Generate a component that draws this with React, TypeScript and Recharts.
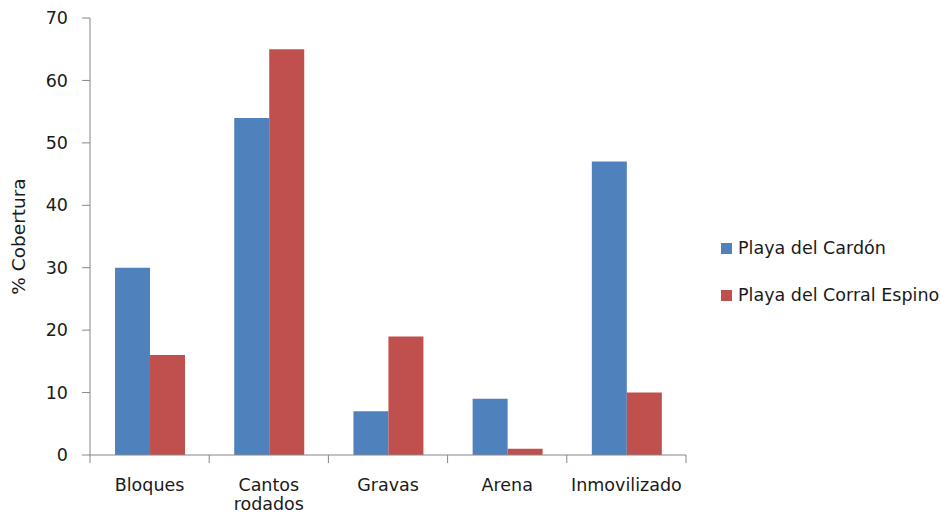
import { BarChart, Bar, XAxis, YAxis, Legend } from 'recharts';

// Cobertura (%) por tipo de sustrato en dos playas.
const categories = ['Bloques', 'Cantos rodados', 'Gravas', 'Arena', 'Inmovilizado'];
const cardon = [30, 54, 7, 9, 47];
const corralEspino = [16, 65, 19, 1, 10];
const seriesNames = ['Playa del Cardón', 'Playa del Corral Espino'];
const yTicks = [0, 10, 20, 30, 40, 50, 60, 70];

const BLUE = '#4F81BD';
const RED = '#C0504D';
const AXIS = '#868686';
const TEXT = '#1a1a1a';
const FONT = '"DejaVu Sans", Verdana, sans-serif';
const FS = 17.5;

const data = categories.map((name, i) => ({
  name,
  cardon: cardon[i],
  corral: corralEspino[i],
}));

// Excel puts the category tick marks on the band edges, not the centres.
function CategoryTick({ x, y, payload, index, visibleTicksCount }: any) {
  const lines = String(payload.value).split(' ');
  const half = payload.offset ?? 0;
  const last = index === visibleTicksCount - 1;
  return (
    <g>
      <line x1={x - half} x2={x - half} y1={y} y2={y + 8} stroke={AXIS} />
      {last && <line x1={x + half} x2={x + half} y1={y} y2={y + 8} stroke={AXIS} />}
      <text x={x} y={y} textAnchor="middle" fill={TEXT} fontSize={FS} fontFamily={FONT}>
        {lines.map((l, i) => (
          <tspan key={i} x={x} dy={i === 0 ? 36 : 19}>
            {l}
          </tspan>
        ))}
      </text>
    </g>
  );
}

function LegendBox({ payload }: any) {
  return (
    <div style={{ fontFamily: FONT, fontSize: FS, color: TEXT }}>
      {(payload ?? []).map((p: any, i: number) => (
        <div key={i} style={{ display: 'flex', alignItems: 'center', height: 24, marginBottom: 23 }}>
          <span style={{ width: 11, height: 11, background: p.color, marginRight: 6, display: 'inline-block' }} />
          <span style={{ whiteSpace: 'nowrap' }}>{p.value}</span>
        </div>
      ))}
    </div>
  );
}

export default function App() {
  return (
    <div style={{ position: 'absolute', left: 0, top: 0, width: 941, height: 513, background: '#fff' }}>
      <BarChart
        width={941}
        height={513}
        data={data}
        margin={{ top: 18, right: 255, bottom: 0, left: 0 }}
        barCategoryGap="21%"
        barGap={0}
      >
        <XAxis
          dataKey="name"
          height={58}
          axisLine={{ stroke: AXIS }}
          tickLine={false}
          tickSize={0}
          tickMargin={0}
          interval={0}
          tick={<CategoryTick />}
        />
        <YAxis
          width={90}
          domain={[0, 70]}
          ticks={yTicks}
          tickSize={8}
          tickMargin={14}
          axisLine={{ stroke: AXIS }}
          tickLine={{ stroke: AXIS }}
          tick={{ fill: TEXT, fontSize: FS, fontFamily: FONT }}
          label={{
            value: '% Cobertura',
            angle: -90,
            position: 'insideLeft',
            offset: 18,
            style: { textAnchor: 'middle', fill: TEXT, fontSize: 18.5, fontFamily: FONT },
          }}
        />
        <Legend
          layout="horizontal"
          verticalAlign="middle"
          align="center"
          content={<LegendBox />}
          wrapperStyle={{ position: 'absolute', left: 721, top: 236, width: 220 }}
        />
        <Bar dataKey="cardon" name={seriesNames[0]} fill={BLUE} isAnimationActive={false} />
        <Bar dataKey="corral" name={seriesNames[1]} fill={RED} isAnimationActive={false} />
      </BarChart>
    </div>
  );
}
